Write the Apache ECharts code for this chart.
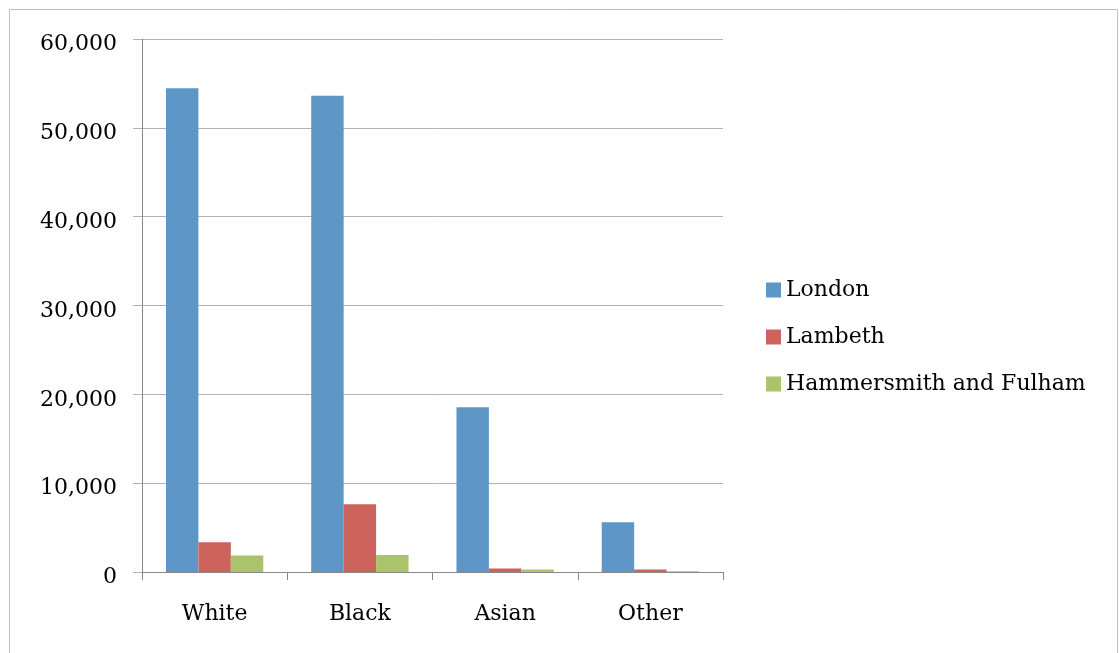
<!DOCTYPE html>
<html>
<head>
<meta charset="utf-8">
<script src="https://cdn.jsdelivr.net/npm/echarts@6/dist/echarts.min.js"></script>
<style>
  html, body { margin: 0; padding: 0; background: #fff; }
  #chart { width: 1119px; height: 653px; }
</style>
</head>
<body>
<div id="chart"></div>
<script>
// Ethnic group counts
const categories = ['White', 'Black', 'Asian', 'Other'];
const london = [54450, 53600, 18550, 5600];
const lambeth = [3350, 7620, 380, 270];
const hammersmith = [1850, 1920, 270, 80];
const seriesNames = ['London', 'Lambeth', 'Hammersmith and Fulham'];
const colors = ['#5f96c8', '#cd635d', '#a9c46b'];

const chart = echarts.init(document.getElementById('chart'));
const font = 'DejaVu Serif';

chart.setOption({
  animation: false,
  textStyle: { fontFamily: font },
  graphic: [{
    type: 'rect',
    shape: { x: 9.5, y: 9.5, width: 1108, height: 700 },
    style: { fill: 'none', stroke: '#bfbfbf', lineWidth: 1 },
    silent: true
  }],
  grid: { left: 142, right: 396, top: 39, bottom: 81 },
  legend: {
    orient: 'vertical',
    left: 766,
    top: 279,
    padding: 0,
    itemWidth: 15,
    itemHeight: 15,
    itemGap: 25,
    icon: 'rect',
    data: seriesNames,
    textStyle: { fontFamily: font, fontSize: 22, color: '#000' }
  },
  xAxis: {
    type: 'category',
    data: categories,
    axisLine: { lineStyle: { color: '#888', width: 1 } },
    axisTick: { show: true, length: 8, lineStyle: { color: '#888' } },
    axisLabel: { fontFamily: font, fontSize: 22, color: '#000', margin: 31 }
  },
  yAxis: {
    type: 'value',
    min: 0,
    max: 60000,
    interval: 10000,
    axisLine: { show: true, lineStyle: { color: '#888', width: 1 } },
    axisTick: { show: true, length: 9, lineStyle: { color: '#b3b3b3' } },
    splitLine: { lineStyle: { color: '#b3b3b3', width: 1 } },
    axisLabel: {
      margin: 25,
      formatter: v => '{v|' + v.toLocaleString('en-US') + '}',
      rich: {
        v: { fontFamily: font, fontSize: 22, color: '#000', padding: [11, 0, 0, 0] }
      }
    }
  },
  series: [london, lambeth, hammersmith].map((d, i) => ({
    name: seriesNames[i],
    type: 'bar',
    data: d,
    barGap: '0%',
    barCategoryGap: '33%',
    itemStyle: { color: colors[i] }
  }))
});
</script>
</body>
</html>
